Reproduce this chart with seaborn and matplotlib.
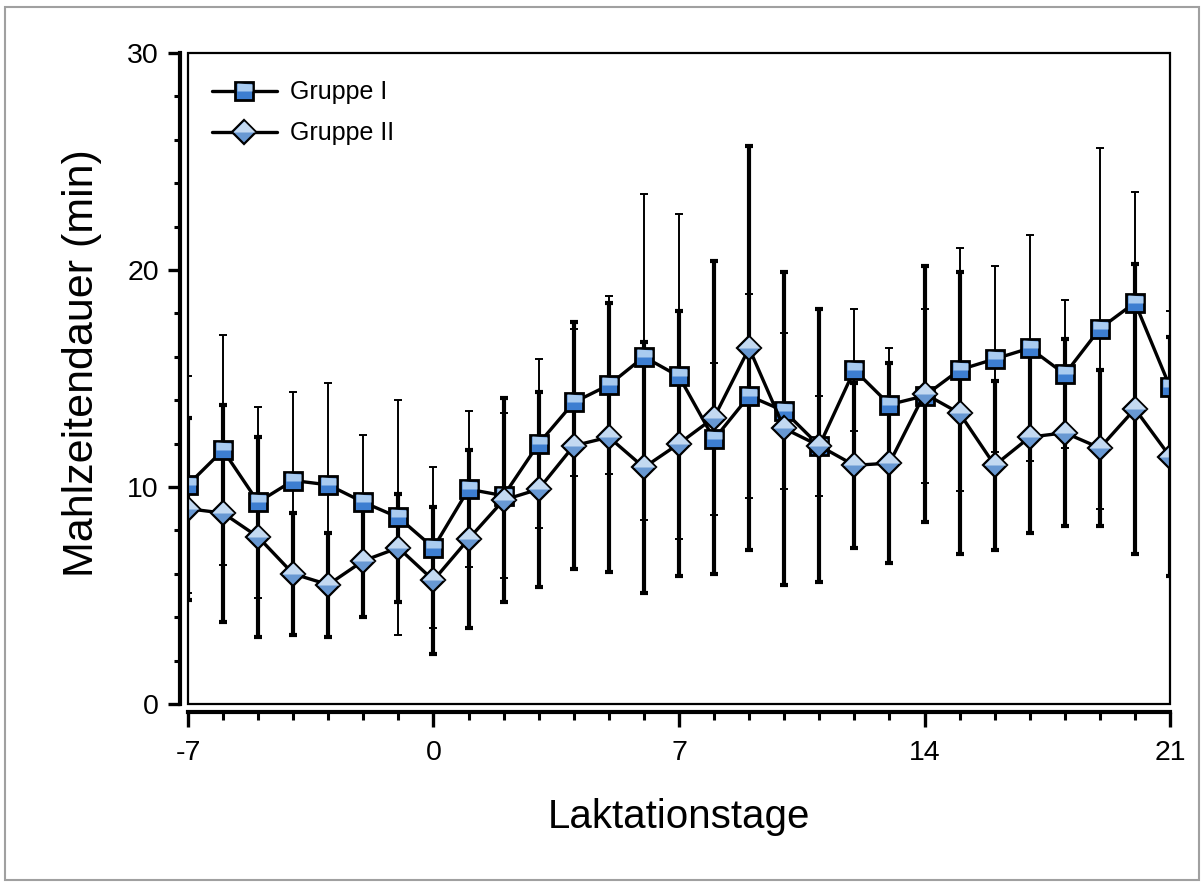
import matplotlib
matplotlib.use("Agg")
import matplotlib.pyplot as plt
from matplotlib.patches import Rectangle
from matplotlib.ticker import MultipleLocator
import seaborn as sns

# Laktationstage -7 .. 21
days = list(range(-7, 22))

# Mahlzeitendauer (min), Mittelwert und Standardabweichung
gruppe1_mean = [10.1, 11.7, 9.3, 10.3, 10.1, 9.3, 8.6, 7.2, 9.9, 9.6,
                12.0, 13.9, 14.7, 16.0, 15.1, 12.2, 14.2, 13.5, 11.9, 15.4,
                13.8, 14.2, 15.4, 15.9, 16.4, 15.2, 17.3, 18.5, 14.6]
gruppe1_sd = [5.0, 5.3, 4.4, 4.1, 4.7, 3.1, 5.4, 3.7, 3.6, 3.8,
              3.9, 3.4, 4.1, 7.5, 7.5, 3.5, 4.7, 3.6, 2.3, 2.8,
              2.6, 4.0, 5.6, 4.3, 5.2, 3.4, 8.3, 5.1, 3.5]

gruppe2_mean = [9.0, 8.8, 7.7, 6.0, 5.5, 6.6, 7.2, 5.7, 7.6, 9.4,
                9.9, 11.9, 12.3, 10.9, 12.0, 13.2, 16.4, 12.7, 11.9, 11.0,
                11.1, 14.3, 13.4, 11.0, 12.3, 12.5, 11.8, 13.6, 11.4]
gruppe2_sd = [4.2, 5.0, 4.6, 2.8, 2.4, 2.6, 2.5, 3.4, 4.1, 4.7,
              4.5, 5.7, 6.2, 5.8, 6.1, 7.2, 9.3, 7.2, 6.3, 3.8,
              4.6, 5.9, 6.5, 3.9, 4.4, 4.3, 3.6, 6.7, 5.5]

labels = ["Gruppe I", "Gruppe II"]
x_ticks = [-7, 0, 7, 14, 21]
y_ticks = [0, 10, 20, 30]

sns.set_style("ticks")
plt.rcParams["font.family"] = ["Liberation Sans", "DejaVu Sans"]
plt.rcParams["axes.unicode_minus"] = False
plt.rcParams["text.color"] = "black"
plt.rcParams["axes.labelcolor"] = "black"
plt.rcParams["xtick.color"] = "black"
plt.rcParams["ytick.color"] = "black"

fig = plt.figure(figsize=(12.04, 8.85), dpi=100)
ax = fig.add_axes([0.1561, 0.2045, 0.8157, 0.7356])

# Streuung: Gruppe I dünn, Gruppe II kräftig
ax.errorbar(days, gruppe1_mean, yerr=gruppe1_sd, fmt="none", ecolor="black",
            elinewidth=1.4, capsize=3.2, capthick=1.4, zorder=2)
ax.errorbar(days, gruppe2_mean, yerr=gruppe2_sd, fmt="none", ecolor="black",
            elinewidth=3.0, capsize=3.2, capthick=3.0, zorder=2)

# Linien mit Markern; helle Oberhälfte als zweite Markerschicht
styles = [
    dict(y=gruppe1_mean, marker="s", ms=13, mew=2.0,
         base="#3d7ed1", light="#a9cbf0", z=3),
    dict(y=gruppe2_mean, marker="D", ms=12.5, mew=1.6,
         base="#6898d2", light="#c3d9f1", z=4),
]
handles = []
for lab, st in zip(labels, styles):
    sns.lineplot(x=days, y=st["y"], ax=ax, color="black", linewidth=2.4,
                 marker=st["marker"], markersize=st["ms"],
                 markerfacecolor=st["base"], mec="black", mew=st["mew"],
                 errorbar=None, zorder=st["z"])
    base_line = ax.lines[-1]
    top_half, = ax.plot(days, st["y"], linestyle="none", marker=st["marker"],
                        markersize=st["ms"] - 1.1 * st["mew"],
                        fillstyle="top", markerfacecolor=st["light"],
                        markerfacecoloralt="none", markeredgecolor="none",
                        zorder=st["z"] + 0.1)
    handles.append((base_line, top_half))

ax.set_xlim(-7, 21)
ax.set_ylim(0, 30)

# Achsen: abgesetzte kräftige Achslinien links und unten
for side in ["top", "right"]:
    ax.spines[side].set_visible(False)
for side in ["left", "bottom"]:
    ax.spines[side].set_position(("outward", 6))
    ax.spines[side].set_linewidth(3.0)
    ax.spines[side].set_color("black")

# Rahmen um die Zeichenfläche
ax.add_patch(Rectangle((0, 0), 1, 1, transform=ax.transAxes, fill=False,
                       edgecolor="black", linewidth=1.6, clip_on=False, zorder=5))

ax.set_xticks(x_ticks)
ax.set_yticks(y_ticks)
ax.xaxis.set_minor_locator(MultipleLocator(1))
ax.yaxis.set_minor_locator(MultipleLocator(2))
ax.tick_params(axis="both", which="major", direction="out", width=2.4,
               color="black", labelsize=20.5, labelcolor="black")
ax.tick_params(axis="y", which="major", length=9, pad=6)
ax.tick_params(axis="x", which="major", length=11, pad=9)
ax.tick_params(axis="y", which="minor", direction="out", length=4, width=2.2)
ax.tick_params(axis="x", which="minor", direction="out", length=5.5, width=2.2)

ax.set_xlabel("Laktationstage", fontsize=29)
ax.set_ylabel("Mahlzeitendauer (min)", fontsize=31)
ax.xaxis.set_label_coords(0.5, -0.144)
ax.yaxis.set_label_coords(-0.0876, 0.524)

ax.legend(handles, labels, loc="upper left", bbox_to_anchor=(0.024, 0.958),
          frameon=False, fontsize=18, handlelength=2.6, handletextpad=0.55,
          labelspacing=0.68, borderpad=0, borderaxespad=0)

# grauer Außenrahmen der Abbildung
fig.patches.append(Rectangle((0.0042, 0.0057), 0.9916, 0.9864,
                             transform=fig.transFigure, fill=False,
                             edgecolor="#a0a0a0", linewidth=1.5))

fig.savefig("out.png", dpi=100)
